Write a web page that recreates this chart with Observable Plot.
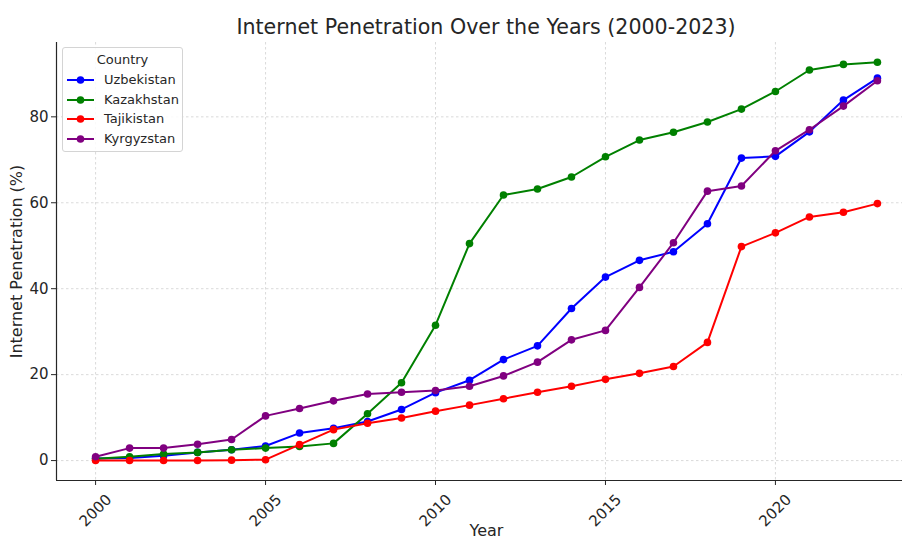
<!DOCTYPE html>
<html><head><meta charset="utf-8">
<script src="https://cdn.jsdelivr.net/npm/d3@7"></script>
<script src="https://cdn.jsdelivr.net/npm/@observablehq/plot@0.6"></script>
<style>
html,body{margin:0;padding:0;background:#fff;overflow:hidden;width:902px;height:540px}
#wrap{position:relative;width:920px;height:540px;font-family:"DejaVu Sans",sans-serif;color:#262626}
#title{position:absolute;left:56px;width:860px;top:15px;text-align:center;font-size:20.6px;line-height:24px}
#legend{position:absolute;left:62px;top:47px;width:119px;height:103px;border:1px solid #d4d4d4;border-radius:3px;background:rgba(255,255,255,0.85);font-size:13px}
#legend .lt{position:absolute;left:0;width:119px;top:4px;text-align:center;line-height:16px}
#legend .row{position:absolute;left:3px;height:16px;line-height:16px}
#legend .row svg{position:absolute;left:0;top:0}
#legend .row span{position:absolute;left:38px;top:0;white-space:nowrap}
</style></head>
<body><div id="wrap"><div id="title"></div><div id="chart"></div><div id="legend"></div></div>
<script>
const years = [2000,2001,2002,2003,2004,2005,2006,2007,2008,2009,2010,2011,2012,2013,2014,2015,2016,2017,2018,2019,2020,2021,2022,2023];
const countries = ["Uzbekistan","Kazakhstan","Tajikistan","Kyrgyzstan"];
const colors = ["#0000ff","#008000","#ff0000","#800080"];
const uzbekistan = [0.5,0.6,1.1,1.9,2.5,3.4,6.4,7.5,9.1,11.9,15.8,18.7,23.5,26.7,35.4,42.7,46.6,48.6,55.1,70.4,70.8,76.5,83.9,89.0];
const kazakhstan = [0.4,0.9,1.5,1.9,2.5,2.9,3.3,4.0,10.9,18.1,31.5,50.5,61.8,63.2,66.0,70.7,74.6,76.4,78.8,81.8,85.9,90.9,92.2,92.7];
const tajikistan = [0.0,0.0,0.0,0.0,0.1,0.2,3.7,7.2,8.7,9.9,11.5,12.9,14.4,15.9,17.3,18.9,20.3,21.9,27.5,49.8,53.0,56.7,57.8,59.8];
const kyrgyzstan = [0.9,2.9,2.9,3.8,4.9,10.4,12.1,13.9,15.5,15.9,16.3,17.3,19.7,22.9,28.1,30.3,40.3,50.7,62.7,63.9,72.1,77.0,82.5,88.4];
const xTicks = [2000,2005,2010,2015,2020];
const yTicks = [0,20,40,60,80];
const xDomain = [1998.85, 2024.15];
const yDomain = [-4.64, 97.3];
const titleText = "Internet Penetration Over the Years (2000-2023)";
const xLabel = "Year";
const yLabel = "Internet Penetration (%)";
const legendTitle = "Country";

const seriesValues = [uzbekistan, kazakhstan, tajikistan, kyrgyzstan];
const data = countries.flatMap((c, i) => years.map((y, j) => ({country: c, year: y, value: seriesValues[i][j]})));

const seriesMarks = countries.flatMap(c => {
  const d = data.filter(r => r.country === c);
  return [
    Plot.line(d, {x: "year", y: "value", stroke: "country", strokeWidth: 2}),
    Plot.dot(d, {x: "year", y: "value", fill: "country", r: 3.8, stroke: "none"})
  ];
});

const chart = Plot.plot({
  width: 920, height: 540,
  marginLeft: 56, marginRight: 4, marginTop: 42, marginBottom: 60,
  style: {fontFamily: "DejaVu Sans, sans-serif", fontSize: "15px", color: "#262626", background: "transparent"},
  x: {domain: xDomain},
  y: {domain: yDomain},
  color: {domain: countries, range: colors},
  marks: [
    Plot.gridX(xTicks, {stroke: "#b0b0b0", strokeOpacity: 0.6, strokeDasharray: "2.5,2.5", strokeWidth: 0.8}),
    Plot.gridY(yTicks, {stroke: "#b0b0b0", strokeOpacity: 0.6, strokeDasharray: "2.5,2.5", strokeWidth: 0.8}),
    Plot.ruleX([xDomain[0]], {stroke: "#262626", strokeWidth: 1.2}),
    Plot.ruleY([yDomain[0]], {stroke: "#262626", strokeWidth: 1.2}),
    Plot.axisX(xTicks, {tickFormat: "d", tickRotate: -45, textAnchor: "middle", lineAnchor: "middle", tickSize: 5, tickPadding: 25, fontSize: 15, label: null}),
    Plot.axisX({label: xLabel, ticks: [], tickSize: 0, labelAnchor: "center", labelArrow: "none", labelOffset: 55, fontSize: 16}),
    Plot.axisY(yTicks, {tickSize: 5, tickPadding: 3, fontSize: 15, label: null}),
    Plot.axisY({label: yLabel, ticks: [], tickSize: 0, labelAnchor: "center", labelArrow: "none", labelOffset: 46, fontSize: 16}),
    ...seriesMarks
  ]
});
document.getElementById("chart").appendChild(chart);
document.getElementById("title").textContent = titleText;

const lg = document.getElementById("legend");
const lt = document.createElement("div");
lt.className = "lt"; lt.textContent = legendTitle; lg.appendChild(lt);
countries.forEach((c, i) => {
  const row = document.createElement("div");
  row.className = "row";
  row.style.top = (24 + i * 19.5) + "px";
  row.innerHTML = `<svg width="30" height="16"><line x1="1" x2="28" y1="8" y2="8" stroke="${colors[i]}" stroke-width="2"/><circle cx="14.5" cy="8" r="3.8" fill="${colors[i]}"/></svg><span></span>`;
  row.querySelector("span").textContent = c;
  lg.appendChild(row);
});
</script>
</body></html>
